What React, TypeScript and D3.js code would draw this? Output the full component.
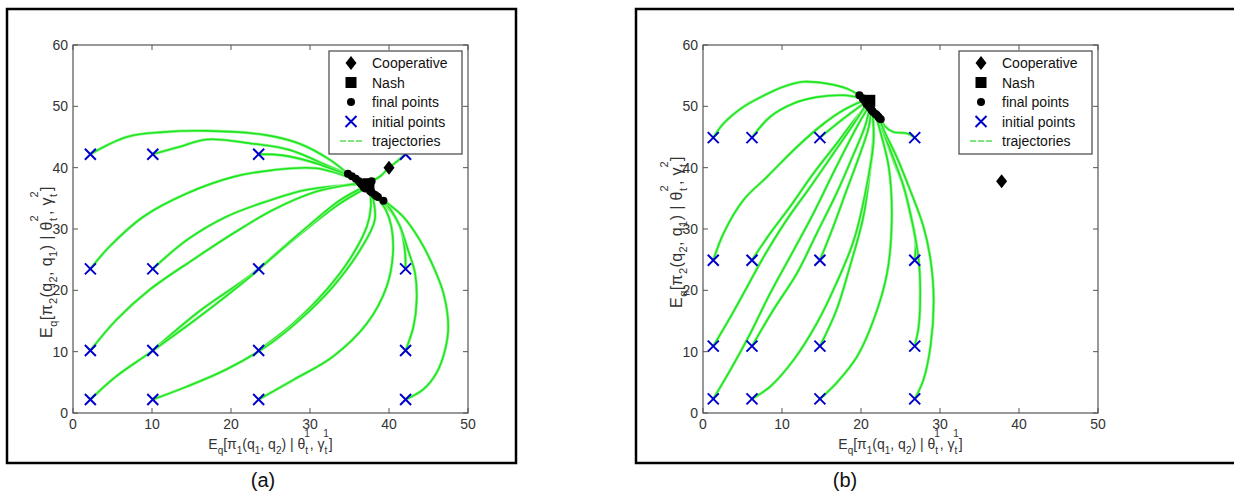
import React from "react";
import * as d3 from "d3";

type P = [number, number];

// ---------- Panel (a) data ----------
const initXA = [2.2, 10.1, 23.5, 42.1];
const initYA = [2.2, 10.2, 23.5, 42.2];
const coopA: P = [40, 40];
const nashA: P = [37.4, 37.3];
const trajA: P[][] = [
  [[2.2, 42.2], [6.8, 45], [11.4, 45.8], [16.9, 46], [24.5, 45.3], [28.7, 43.9], [32.5, 41.3], [34.8, 39]],
  [[10.1, 42.2], [13.5, 43.4], [16.9, 44.6], [22.8, 43.9], [27.4, 42.9], [32.1, 40.4], [35.3, 38.6]],
  [[23.5, 42.2], [26.6, 42], [30.8, 40.7], [35.8, 38.2]],
  [[42.1, 42.2], [41, 41], [40, 40], [38.9, 38.6], [37.8, 37.8]],
  [[2.2, 23.5], [4.6, 27.1], [8.9, 32], [14.4, 35.8], [20.3, 38.5], [25.3, 39.6], [30.8, 39.9], [36.2, 37.8]],
  [[10.1, 23.5], [14.4, 28.2], [19.4, 32], [24.5, 34.5], [29.6, 36.4], [36.5, 37.3]],
  [[23.5, 23.5], [28.7, 29.3], [32.9, 33.6], [36.8, 36.8]],
  [[42.1, 23.5], [42, 26.6], [41.4, 30.4], [40.3, 32.8], [38.4, 35.4]],
  [[2.2, 10.2], [5.5, 15.2], [9.7, 20.1], [15.2, 25], [20.3, 29.3], [25.3, 33.1], [30.8, 36.1], [36.4, 37.5]],
  [[10.1, 10.2], [16, 16.6], [22.4, 22.4], [28.7, 29.1], [33.5, 33.9], [37, 36.6]],
  [[23.5, 10.2], [27.9, 14.6], [32.1, 20.1], [35, 25], [37.2, 30.4], [37.7, 33.6], [37.6, 36.2]],
  [[42.1, 10.2], [43.1, 14.1], [43.5, 18.4], [43.3, 22.8], [42.4, 26.6], [41.4, 30.4], [40.2, 33.2], [39.3, 34.6]],
  [[2.2, 2.2], [5.5, 6], [9.7, 9.8], [16, 15.7], [22.4, 22.2], [28.7, 29.3], [33.8, 34.7], [36.9, 36.9]],
  [[10.1, 2.2], [14.4, 4.3], [19.4, 7.1], [24.5, 10.9], [28.7, 15.2], [32.9, 20.6], [36.3, 26.5], [38.2, 31.5], [37.8, 36]],
  [[23.5, 2.2], [27.9, 5.4], [32.9, 9.2], [37.2, 14.6], [39.7, 20.6], [40.5, 26], [40.3, 30.4], [39.6, 33.1], [38.2, 35.6]],
  [[42.1, 2.2], [44.3, 3.8], [46, 6.5], [47.1, 10.3], [47.5, 14.1], [46.9, 19.5], [45.6, 23.9], [43.9, 28.2], [41.8, 32], [39.8, 34.2], [38.6, 35.2]],
];

// ---------- Panel (b) data ----------
const initXB = [1.3, 6.2, 14.8, 26.8];
const initYB = [2.3, 10.9, 24.9, 44.9];
const coopB: P = [37.8, 37.8];
const nashB: P = [21.05, 50.9];
const trajB: P[][] = [
  [[1.3, 44.9], [2.6, 47.2], [5.1, 49.9], [7.3, 51.5], [10.2, 53.2], [12.7, 54], [15.7, 53.7], [18.2, 52.9], [19.8, 51.8]],
  [[6.2, 44.9], [8.5, 48.3], [11.5, 50.5], [14.4, 51.5], [17.8, 51.8], [20.2, 51.3]],
  [[14.8, 44.9], [16.5, 46.7], [18.6, 48.8], [20.6, 50.7]],
  [[26.8, 44.9], [25.8, 45.6], [24.1, 45.8], [23, 46.8], [22.5, 47.9]],
  [[1.3, 24.9], [2.6, 29.3], [5.1, 34.7], [8.1, 38.5], [11.9, 43.4], [15.3, 47.2], [17.8, 49.4], [20.4, 51]],
  [[6.2, 24.9], [8.5, 29.3], [11, 33.6], [14, 39.1], [16.9, 43.9], [19.5, 48.3], [20.9, 50.2]],
  [[14.8, 24.9], [16.5, 30.4], [18.2, 36.4], [19.9, 42.3], [21, 46.7], [21.3, 49.5]],
  [[26.8, 24.9], [26.9, 28.2], [26.2, 32.6], [25.4, 36.9], [24.1, 41.2], [22.9, 45.6], [22.2, 48.3]],
  [[1.3, 10.9], [3.5, 15.7], [5.6, 20.6], [7.7, 25.5], [10.6, 31.5], [13.6, 36.9], [16.5, 42.3], [19.1, 47.2], [20.7, 50.4]],
  [[6.2, 10.9], [8.9, 16.8], [11.9, 22.8], [14.4, 29.3], [16.9, 35.8], [19.1, 42.3], [20.5, 46.7], [21.1, 49.8]],
  [[14.8, 10.9], [16.9, 16.8], [18.6, 23.9], [20.3, 32], [21.2, 40.2], [21.6, 45.6], [21.5, 49.1]],
  [[26.8, 10.9], [27.3, 14.1], [27.5, 19.5], [27.3, 25], [26.6, 30.4], [25.4, 36.9], [23.7, 42.9], [22, 48.6]],
  [[1.3, 2.3], [3.5, 7.1], [6, 13], [8.5, 19.5], [11.5, 26.6], [14, 32.6], [16.9, 40.2], [19.5, 46.7], [21, 50]],
  [[6.2, 2.3], [8.5, 4.3], [11.5, 8.7], [14.4, 14.6], [16.9, 21.2], [19.1, 28.2], [20.7, 36.9], [21.6, 44.5], [21.4, 49.3]],
  [[14.8, 2.3], [16.9, 4.9], [19.5, 9.2], [21.6, 15.2], [23.3, 22.8], [23.9, 32], [23.5, 40.2], [22.4, 46.1], [21.8, 48.8]],
  [[26.8, 2.3], [27.9, 5.4], [28.8, 10.9], [29.2, 18.4], [28.8, 25], [27.9, 30.4], [26.2, 36.4], [24.5, 41.8], [22.9, 46.1], [22.3, 48.1]],
];

// ---------- shared axis data ----------
const xTicks = [0, 10, 20, 30, 40, 50];
const yTicks = [0, 10, 20, 30, 40, 50, 60];
const legendLabels = ["Cooperative", "Nash", "final points", "initial points", "trajectories"];
const panelLabels = ["(a)", "(b)"];

const FONT = "'Liberation Sans', Arial, Helvetica, sans-serif";
const GREEN = "#1ee61e";
const BLUE = "#0000cc";

type PanelProps = {
  left: number;
  yLabelCy: number;
  initX: number[];
  initY: number[];
  coop: P;
  nash: P;
  traj: P[][];
};

const PW = 395;
const TOP = 45;
const BOTTOM = 413;

function Panel({ left, yLabelCy, initX, initY, coop, nash, traj }: PanelProps) {
  const x = d3.scaleLinear().domain([0, 50]).range([left, left + PW]);
  const y = d3.scaleLinear().domain([0, 60]).range([BOTTOM, TOP]);
  const line = d3
    .line<P>()
    .x((d) => x(d[0]))
    .y((d) => y(d[1]))
    .curve(d3.curveCatmullRom.alpha(0.5));

  const inits: P[] = [];
  initY.forEach((yy) => initX.forEach((xx) => inits.push([xx, yy])));
  const finals: P[] = traj.map((t) => t[t.length - 1]);

  const cross = (cx: number, cy: number, s: number, key: string) => (
    <path
      key={key}
      d={`M${cx - s},${cy - s}L${cx + s},${cy + s}M${cx - s},${cy + s}L${cx + s},${cy - s}`}
      stroke={BLUE}
      strokeWidth={2}
      fill="none"
    />
  );
  const diamond = (cx: number, cy: number) => (
    <path d={`M${cx},${cy - 7}L${cx + 5.5},${cy}L${cx},${cy + 7}L${cx - 5.5},${cy}Z`} fill="#000" />
  );

  const plotCx = left + PW / 2;
  const lx = left + PW - 139;
  const ly = TOP + 6;
  const rowY = (i: number) => ly + 12 + i * 19.5;
  const mX = lx + 22;
  const tX = lx + 43;

  return (
    <g fontFamily={FONT}>
      {traj.map((t, i) => (
        <g key={"t" + i}>
          <path d={line(t) || ""} fill="none" stroke="#9cf59c" strokeWidth={3} strokeLinejoin="round" />
          <path d={line(t) || ""} fill="none" stroke={GREEN} strokeWidth={1.6} strokeLinejoin="round" />
        </g>
      ))}
      {finals.map((p, i) => (
        <circle key={"f" + i} cx={x(p[0])} cy={y(p[1])} r={4} fill="#000" />
      ))}
      <rect x={x(nash[0]) - 6} y={y(nash[1]) - 6} width={12} height={12} fill="#000" />
      {diamond(x(coop[0]), y(coop[1]))}
      {inits.map((p, i) => cross(x(p[0]), y(p[1]), 5.5, "x" + i))}

      <rect x={left} y={TOP} width={PW} height={BOTTOM - TOP} fill="none" stroke="#555" strokeWidth={1.2} />
      {xTicks.map((v) => (
        <g key={"xt" + v}>
          <line x1={x(v)} x2={x(v)} y1={BOTTOM} y2={BOTTOM - 5} stroke="#555" />
          <line x1={x(v)} x2={x(v)} y1={TOP} y2={TOP + 5} stroke="#555" />
          <text x={x(v)} y={BOTTOM + 16} textAnchor="middle" fontSize={14} fill="#333">
            {v}
          </text>
        </g>
      ))}
      {yTicks.map((v) => (
        <g key={"yt" + v}>
          <line x1={left} x2={left + 5} y1={y(v)} y2={y(v)} stroke="#555" />
          <line x1={left + PW} x2={left + PW - 5} y1={y(v)} y2={y(v)} stroke="#555" />
          <text x={left - 5} y={y(v) + 5} textAnchor="end" fontSize={14} fill="#333">
            {v}
          </text>
        </g>
      ))}

      <text x={plotCx} y={449} textAnchor="middle" fontSize={14} fill="#333">
        E<tspan fontSize={10} dy={5}>q</tspan>
        <tspan dy={-5}>[π</tspan>
        <tspan fontSize={10} dy={5}>1</tspan>
        <tspan dy={-5}>(q</tspan>
        <tspan fontSize={10} dy={5}>1</tspan>
        <tspan dy={-5}>, q</tspan>
        <tspan fontSize={10} dy={5}>2</tspan>
        <tspan dy={-5}>) | θ</tspan>
        <tspan fontSize={10} dy={5}>t</tspan>
        <tspan fontSize={10} dx={-4} dy={-17}>1</tspan>
        <tspan dy={12}>, γ</tspan>
        <tspan fontSize={10} dy={5}>t</tspan>
        <tspan fontSize={10} dx={-4} dy={-17}>1</tspan>
        <tspan dy={12}>]</tspan>
      </text>

      <text
        transform={`translate(${left - 21},${yLabelCy}) rotate(-90)`}
        textAnchor="middle"
        fontSize={16}
        letterSpacing={0.4}
        fill="#333"
      >
        E<tspan fontSize={11} dy={5}>q</tspan>
        <tspan dy={-5}>[π</tspan>
        <tspan fontSize={11} dy={5}>2</tspan>
        <tspan dy={-5}>(q</tspan>
        <tspan fontSize={11} dy={5}>2</tspan>
        <tspan dy={-5}>, q</tspan>
        <tspan fontSize={11} dy={5}>1</tspan>
        <tspan dy={-5}>) | θ</tspan>
        <tspan fontSize={11} dy={5}>t</tspan>
        <tspan fontSize={11} dx={-4} dy={-19}>2</tspan>
        <tspan dy={14}>, γ</tspan>
        <tspan fontSize={11} dy={5}>t</tspan>
        <tspan fontSize={11} dx={-4} dy={-19}>2</tspan>
        <tspan dy={14}>]</tspan>
      </text>

      <rect x={lx} y={ly} width={133} height={103} fill="#fff" stroke="#444" strokeWidth={1.2} />
      {diamond(mX, rowY(0))}
      <rect x={mX - 5.5} y={rowY(1) - 5.5} width={11} height={11} fill="#000" />
      <circle cx={mX} cy={rowY(2)} r={4} fill="#000" />
      {cross(mX, rowY(3), 5.5, "lx")}
      <line x1={mX - 11} x2={mX + 11} y1={rowY(4)} y2={rowY(4)} stroke="#55e055" strokeWidth={1.4} strokeDasharray="6,2" />
      {legendLabels.map((s, i) => (
        <text key={s} x={tX} y={rowY(i) + 5} fontSize={14} fill="#111">
          {s}
        </text>
      ))}
    </g>
  );
}

export default function App() {
  return (
    <svg width={1234} height={493} style={{ display: "block", position: "absolute", left: 0, top: 0 }}>
      <rect x={0} y={0} width={1234} height={493} fill="#fff" />
      <rect x={7} y={9} width={509} height={454} fill="none" stroke="#000" strokeWidth={2.5} />
      <rect x={636} y={9} width={620} height={454} fill="none" stroke="#000" strokeWidth={2.5} />
      <Panel left={73} yLabelCy={262} initX={initXA} initY={initYA} coop={coopA} nash={nashA} traj={trajA} />
      <Panel left={703} yLabelCy={232} initX={initXB} initY={initYB} coop={coopB} nash={nashB} traj={trajB} />
      <text x={263} y={487} textAnchor="middle" fontSize={20} fontFamily={FONT} fill="#111">
        {panelLabels[0]}
      </text>
      <text x={845} y={487} textAnchor="middle" fontSize={20} fontFamily={FONT} fill="#111">
        {panelLabels[1]}
      </text>
    </svg>
  );
}
